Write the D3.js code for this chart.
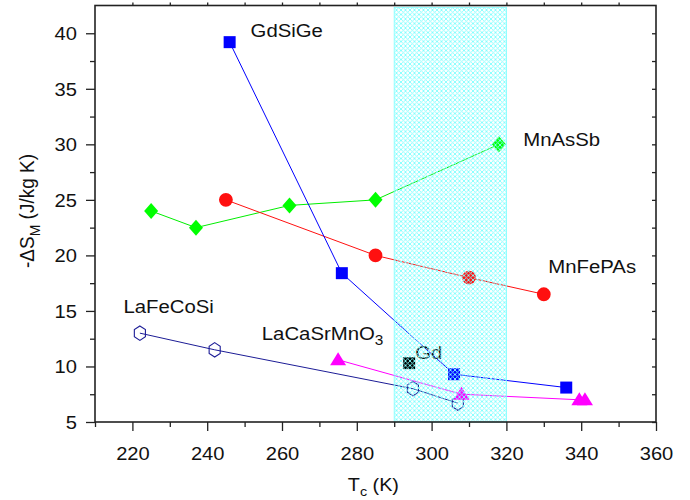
<!DOCTYPE html>
<html>
<head>
<meta charset="utf-8">
<script src="https://cdn.jsdelivr.net/npm/d3@7"></script>
<style>
  body { margin: 0; background: #fff; }
  svg { font-family: "Liberation Sans", Arial, Helvetica, sans-serif; }
</style>
</head>
<body>
<svg id="chart" width="690" height="500"></svg>
<script>
// Data: Tc (K) and -dS_M (J/kg K)
const gdsigeTc = [246, 276, 306, 336];
const gdsigeDS = [39.2, 18.4, 9.3, 8.1];
const mnassbTc = [225, 237, 262, 285, 318];
const mnassbDS = [24.0, 22.5, 24.5, 25.0, 30.0];
const mnfepasTc = [245, 285, 310, 330];
const mnfepasDS = [25.0, 20.0, 18.0, 16.5];
const lafecosiTc = [222, 242, 295, 307];
const lafecosiDS = [13.0, 11.5, 8.0, 6.7];
const lacasrTc = [275, 308, 339.5, 341];
const lacasrDS = [10.6, 7.5, 7.0, 7.0];
const gdTc = [294];
const gdDS = [10.3];

// room-temperature band
const bandTc = [290, 320];

const xTicks = [220, 240, 260, 280, 300, 320, 340, 360];
const yTicks = [5, 10, 15, 20, 25, 30, 35, 40];

const margin = {top: 5.5, right: 34, bottom: 78, left: 95};
const width = 690 - margin.left - margin.right;
const height = 500 - margin.top - margin.bottom;
const sx = 1.1; // glyphs in the figure are a little wide

const svg = d3.select('#chart');

const x = d3.scaleLinear().domain([210, 360]).range([0, width]);
const y = d3.scaleLinear().domain([5, 42.5]).range([height, 0]);

const defs = svg.append('defs');
const hatch = defs.append('pattern')
    .attr('id', 'hatch')
    .attr('patternUnits', 'userSpaceOnUse')
    .attr('width', 4.5)
    .attr('height', 4.5);
hatch.append('path')
    .attr('d', 'M0,0 L4.5,4.5 M4.5,0 L0,4.5')
    .attr('stroke', '#80ffff')
    .attr('stroke-width', 0.9);

const chart = svg.append('g')
    .attr('transform', `translate(${margin.left},${margin.top})`);

// marker shapes
const hexagon = (() => {
  const p = d3.path();
  for (let i = 0; i < 6; i++) {
    const a = Math.PI / 3 * i - Math.PI / 2;
    const px = 6.4 * Math.cos(a), py = 7.2 * Math.sin(a);
    i ? p.lineTo(px, py) : p.moveTo(px, py);
  }
  p.closePath();
  return p.toString();
})();
const shapes = {
  square: 'M-6,-6H6V6H-6Z',
  diamond: 'M0,-8L7,0L0,8L-7,0Z',
  circle: d3.symbol(d3.symbolCircle, 150)(),
  triangle: 'M0,-7.5L8,5.5L-8,5.5Z',
  hexagon: hexagon
};

const series = [
  {tc: mnassbTc, ds: mnassbDS, color: '#00ee00', fill: '#00ff00', shape: 'diamond'},
  {tc: mnfepasTc, ds: mnfepasDS, color: '#ff1010', fill: '#ff1010', shape: 'circle'},
  {tc: lafecosiTc, ds: lafecosiDS, color: '#1c1c96', fill: 'none', shape: 'hexagon'},
  {tc: lacasrTc, ds: lacasrDS, color: '#ff00ff', fill: '#ff00ff', shape: 'triangle'},
  {tc: gdsigeTc, ds: gdsigeDS, color: '#0000ff', fill: '#0000ff', shape: 'square'},
  {tc: gdTc, ds: gdDS, color: '#000', fill: '#000', shape: 'square'}
];

const line = d3.line()
    .x(d => x(d[0]))
    .y(d => y(d[1]));

series.forEach(s => {
  const pts = s.tc.map((t, i) => [t, s.ds[i]]);
  chart.append('path')
      .datum(pts)
      .attr('fill', 'none')
      .attr('stroke', s.color)
      .attr('stroke-width', 1)
      .attr('d', line);
  chart.selectAll(null)
      .data(pts)
    .join('path')
      .attr('transform', d => `translate(${x(d[0])},${y(d[1])})`)
      .attr('d', shapes[s.shape])
      .attr('fill', s.fill)
      .attr('stroke', s.fill === 'none' ? s.color : 'none')
      .attr('stroke-width', 1.1);
});

// text labels, placed in data units
function label(t, v, str) {
  return chart.append('text')
      .attr('transform', `translate(${x(t)},${y(v)}) scale(${sx},1)`)
      .attr('font-size', 18.5)
      .attr('fill', '#111')
      .text(str);
}
label(251.6, 39.7, 'GdSiGe');
label(324.5, 29.85, 'MnAsSb');
label(331.2, 18.45, 'MnFePAs');
label(217.6, 14.8, 'LaFeCoSi');
const lcs = label(254.6, 12.4, 'LaCaSrMnO');
lcs.append('tspan').attr('dy', 5).attr('font-size', 14).text('3');
label(295.6, 10.7, 'Gd');

// hatched band sits on top of the marks
chart.append('rect')
    .attr('x', x(bandTc[0]))
    .attr('y', 1.8)
    .attr('width', x(bandTc[1]) - x(bandTc[0]))
    .attr('height', height - 1.8)
    .attr('fill', 'url(#hatch)')
    .attr('stroke', '#77ffff')
    .attr('stroke-width', 0.8);

// axes
const minorX = d3.range(210, 360, 10).filter(v => v % 20 !== 0);
const minorY = d3.range(7.5, 42.5, 5);

function styleAxis(g) {
  g.select('.domain').remove();
  g.selectAll('line').attr('stroke', '#222').attr('stroke-width', 1.3);
}

chart.append('g')
    .attr('transform', `translate(0,${height})`)
    .call(d3.axisBottom(x).tickValues(xTicks).tickSize(9).tickPadding(0).tickFormat(d3.format('d')))
    .call(styleAxis)
    .call(g => g.selectAll('text')
        .attr('font-size', 17.5)
        .attr('font-family', '"Liberation Sans", Arial, sans-serif')
        .attr('fill', '#111')
        .attr('dy', null)
        .attr('y', 0)
        .attr('transform', `translate(0,38) scale(1.15,1)`));

chart.append('g')
    .attr('transform', `translate(0,${height})`)
    .call(d3.axisBottom(x).tickValues(minorX).tickSize(5).tickFormat(''))
    .call(styleAxis);

chart.append('g')
    .call(d3.axisLeft(y).tickValues(yTicks).tickSize(9).tickFormat(d3.format('d')))
    .call(styleAxis)
    .call(g => g.selectAll('text')
        .attr('font-size', 17.5)
        .attr('font-family', '"Liberation Sans", Arial, sans-serif')
        .attr('fill', '#111')
        .attr('x', null)
        .attr('dy', '0.36em')
        .attr('transform', `translate(-18,0) scale(1.15,1)`));

chart.append('g')
    .call(d3.axisLeft(y).tickValues(minorY).tickSize(5).tickFormat(''))
    .call(styleAxis);

chart.append('g')
    .attr('transform', `translate(${width},0)`)
    .call(d3.axisRight(y).tickValues(d3.range(5, 42.5, 2.5)).tickSize(-4).tickFormat(''))
    .call(styleAxis);

chart.append('g')
    .call(d3.axisTop(x).tickValues(d3.range(220, 360, 10)).tickSize(3).tickFormat(''))
    .call(styleAxis);

// frame
chart.append('rect')
    .attr('width', width)
    .attr('height', height)
    .attr('fill', 'none')
    .attr('stroke', '#222')
    .attr('stroke-width', 1.6);

// axis titles
const xt = svg.append('text')
    .attr('transform', `translate(${margin.left + x(277.6)},491) scale(${sx},1)`)
    .attr('font-size', 18)
    .attr('fill', '#111')
    .text('T');
xt.append('tspan').attr('dy', 5).attr('font-size', 13).text('c');
xt.append('tspan').attr('dy', -5).text(' (K)');

const yt = svg.append('text')
    .attr('transform', `translate(34,${margin.top + y(24)}) scale(${sx},1) rotate(-90)`)
    .attr('font-size', 19)
    .attr('text-anchor', 'middle')
    .attr('fill', '#111')
    .text('-ΔS');
yt.append('tspan').attr('dy', 5).attr('font-size', 14).text('M');
yt.append('tspan').attr('dy', -5).text(' (J/kg K)');
</script>
</body>
</html>
